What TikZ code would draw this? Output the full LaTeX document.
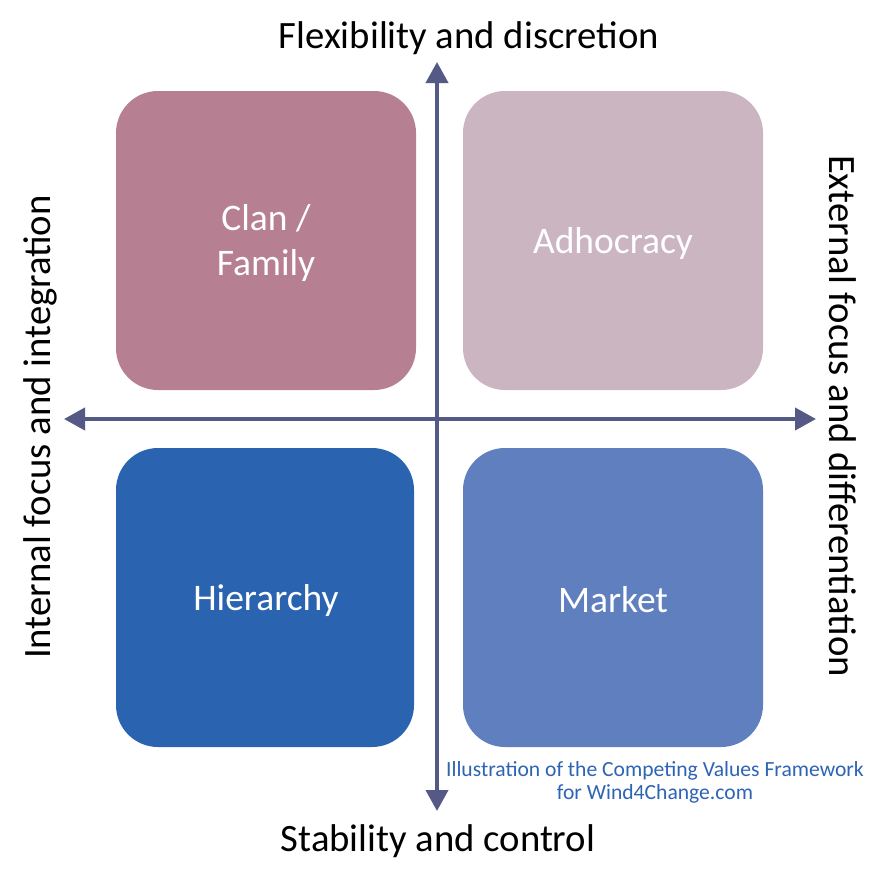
\documentclass[tikz,border=0pt]{standalone}
\usepackage{fontspec}
\setmainfont{Carlito}
\usetikzlibrary{arrows.meta}
\definecolor{clanc}{HTML}{B68092}
\definecolor{adhoc}{HTML}{CBB5C1}
\definecolor{hierc}{HTML}{2A64B0}
\definecolor{markc}{HTML}{5F7FBF}
\definecolor{axisc}{HTML}{545A85}
\definecolor{notec}{HTML}{2E64B4}
\tikzset{
  quad/.style={rounded corners=42pt, inner sep=0pt},
  qlabel/.style={text=white, font=\fontsize{37.5}{45}\selectfont, align=center},
  axislabel/.style={font=\fontsize{38.7}{46}\selectfont, text=black, inner sep=0pt},
  axisline/.style={draw=axisc, line width=4pt, -{Triangle[length=21pt,width=22pt]}},
  note/.style={text=notec, font=\fontsize{21.6}{23}\selectfont, align=center, inner sep=0pt}
}
\begin{document}
\begin{tikzpicture}[x=1pt,y=-1pt]
\useasboundingbox (0,0) rectangle (882,884);
\fill[white] (0,0) rectangle (882,884);
% quadrants
\fill[clanc, quad] (116,91) rectangle (416,390);
\fill[adhoc, quad] (463,91) rectangle (763,390);
\fill[hierc, quad] (116,448) rectangle (414,747);
\fill[markc, quad] (463,448) rectangle (763,747);
\node[qlabel] (clan) at (266,243) {Clan /\\Family};
\node[qlabel] (adh) at (613,243) {Adhocracy};
\node[qlabel] (hier) at (266,600) {Hierarchy};
\node[qlabel] (mkt) at (613,600) {Market};
% axes
\coordinate (vc) at (437,419);
\coordinate (top) at (437,62);
\coordinate (bot) at (437,811);
\coordinate (lft) at (64,419);
\coordinate (rgt) at (816,419);
\draw[axisline] (vc) -- (top);
\draw[axisline] (vc) -- (bot);
\draw[axisline] (vc) -- (lft);
\draw[axisline] (vc) -- (rgt);
% axis labels
\node[axislabel, anchor=base] (flex) at (469,48) {Flexibility and discretion};
\node[axislabel, anchor=base] (stab) at (438,851) {Stability and control};
\node[axislabel, anchor=base, rotate=90] (intl) at (50,427) {Internal focus and integration};
\node[axislabel, anchor=base, rotate=-90] (extl) at (829,416) {External focus and differentiation};
% note
\node[note] (note) at (655,782) {Illustration of the Competing Values Framework\\for Wind4Change.com};
\end{tikzpicture}
\end{document}
